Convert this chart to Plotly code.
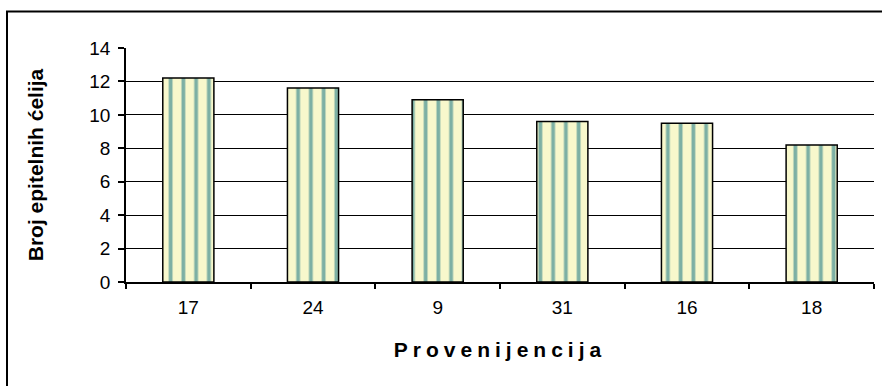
import plotly.graph_objects as go

# Provenance codes and mean count of epithelial cells
provenijencija = ["17", "24", "9", "31", "16", "18"]
broj_celija = [12.2, 11.6, 10.9, 9.6, 9.5, 8.2]
y_ticks = [0, 2, 4, 6, 8, 10, 12, 14]

W, H = 882, 386
L, R, T, B = 126, 8, 48, 104
FONT = "Liberation Sans, Arial, sans-serif"

fig = go.Figure()
fig.add_trace(go.Bar(
    x=provenijencija,
    y=broj_celija,
    width=0.41,
    marker=dict(
        color="#f8f8cc",
        line=dict(color="#000000", width=1.5),
        pattern=dict(shape="|", fgcolor="#2a8088", bgcolor="#f8f8cc",
                     size=12.75, solidity=0.3, fgopacity=0.6),
    ),
    hoverinfo="x+y",
))

# frame around the whole chart area
pw, ph = W - L - R, H - T - B
fig.add_shape(type="rect", xref="paper", yref="paper",
              x0=(7 - L) / pw, x1=(W + 4 - L) / pw,
              y0=-(B + 4) / ph, y1=(H - B - 11.5) / ph,
              line=dict(color="#000000", width=2), fillcolor="rgba(0,0,0,0)",
              layer="below")

fig.update_layout(
    width=W, height=H,
    margin=dict(l=L, r=R, t=T, b=B),
    paper_bgcolor="#ffffff", plot_bgcolor="#ffffff",
    font=dict(family=FONT, color="#000000", size=19),
    showlegend=False,
    bargap=0.59,
    xaxis=dict(
        type="category",
        showgrid=False,
        showline=True, linecolor="#000000", linewidth=1.5,
        ticks="outside", tickson="boundaries", ticklen=5, tickwidth=1.5,
        tickcolor="#000000",
        tickfont=dict(size=19),
        ticklabelstandoff=7,
        title=dict(text='<span style="letter-spacing:5px">Provenijencija</span>',
                   font=dict(size=21, weight="bold"), standoff=26),
    ),
    yaxis=dict(
        range=[0, 14],
        tickvals=y_ticks,
        showgrid=True, gridcolor="#000000", gridwidth=1.3,
        showline=True, linecolor="#000000", linewidth=1.5,
        zeroline=False,
        ticks="outside", ticklen=6, tickwidth=1.5, tickcolor="#000000",
        tickfont=dict(size=19),
        ticklabelstandoff=4,
        title=dict(text="Broj epitelnih ćelija",
                   font=dict(size=21, weight="bold"), standoff=40),
    ),
)

fig.write_html("out.html")
